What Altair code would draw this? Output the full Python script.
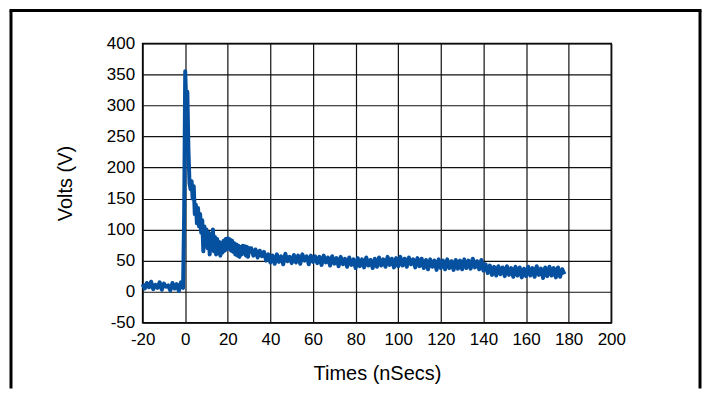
import altair as alt
import pandas as pd

# Baseline before the pulse: t = -20 .. -1 ns, 1 ns apart
pre_start, pre_step = -20.0, 1.0
pre_volts = [12, 5, 14, 7, 16, 4, 11, 6, 15, 3, 13, 8, 10, 2, 14, 5, 12, 1, 15, 6]

# Pulse and fast decay: t = -0.5 .. 30 ns, 0.5 ns apart
pulse_start, pulse_step = -0.5, 0.5
pulse_volts = [
    125, 355, 300, 322, 230, 175, 165, 178, 150, 170,
    125, 140, 110, 135, 105, 125, 95, 115, 65, 105,
    75, 100, 70, 95, 60, 92, 68, 100, 65, 88,
    60, 85, 62, 80, 58, 78, 63, 82, 66, 85,
    68, 86, 70, 84, 66, 82, 64, 78, 60, 76,
    58, 74, 56, 72, 60, 74, 62, 73, 58, 72,
    56, 70,
]

# Slow tail: t = 31 .. 178 ns, 1 ns apart
tail_start, tail_step = 31.0, 1.0
tail_volts = [
    70, 58, 68, 55, 66, 57, 64, 50, 60, 47,
    58, 45, 60, 48, 57, 44, 61, 49, 56, 46,
    59, 47, 58, 45, 60, 50, 57, 44, 58, 48,
    57, 46, 56, 43, 58, 47, 55, 42, 57, 45,
    54, 41, 56, 44, 53, 40, 55, 43, 52, 38,
    54, 41, 52, 39, 55, 42, 51, 38, 53, 40,
    55, 42, 52, 40, 56, 43, 53, 39, 54, 41,
    56, 42, 53, 40, 55, 44, 52, 39, 54, 41,
    53, 38, 51, 36, 52, 40, 50, 35, 52, 38,
    50, 36, 52, 38, 49, 35, 51, 37, 50, 36,
    52, 38, 50, 37, 53, 39, 49, 36, 51, 34,
    44, 30, 42, 27, 40, 26, 41, 28, 39, 25,
    41, 27, 38, 24, 40, 26, 39, 23, 37, 25,
    40, 26, 38, 24, 41, 27, 37, 22, 39, 25,
    40, 26, 38, 23, 39, 24, 36, 28,
]

x_ticks = [-20, 0, 20, 40, 60, 80, 100, 120, 140, 160, 180, 200]
y_ticks = [-50, 0, 50, 100, 150, 200, 250, 300, 350, 400]

times, volts = [], []
for start, step, vals in [(pre_start, pre_step, pre_volts),
                          (pulse_start, pulse_step, pulse_volts),
                          (tail_start, tail_step, tail_volts)]:
    for i, v in enumerate(vals):
        times.append(start + step * i)
        volts.append(v)

df = pd.DataFrame({"t": times, "v": volts, "order": range(len(times))})

FONT = "Liberation Sans"

line = alt.Chart(df).mark_line(color="#0650a0", strokeWidth=4, strokeJoin="round").encode(
    x=alt.X("t:Q", scale=alt.Scale(domain=[-20, 200], nice=False, zero=False),
            axis=alt.Axis(values=x_ticks, title="Times (nSecs)", grid=True,
                          labelExpr="'' + datum.value", labelFlush=False,
                          labelOverlap=False, labelPadding=9, titlePadding=16)),
    y=alt.Y("v:Q", scale=alt.Scale(domain=[-50, 400], nice=False, zero=False),
            axis=alt.Axis(values=y_ticks, title="Volts (V)", grid=True,
                          labelExpr="'' + datum.value", labelFlush=False,
                          labelOverlap=False, labelPadding=8, titlePadding=31)),
    order="order:Q",
)

frame_df = pd.DataFrame({"k": [0]})
left_edge = alt.Chart(frame_df).mark_rule(color="black", strokeWidth=3).encode(
    x=alt.value(-132), y=alt.value(-33), y2=alt.value(346))
right_edge = alt.Chart(frame_df).mark_rule(color="black", strokeWidth=3).encode(
    x=alt.value(559), y=alt.value(-33), y2=alt.value(346))
top_edge = alt.Chart(frame_df).mark_rule(color="black", strokeWidth=3).encode(
    x=alt.value(-133.5), x2=alt.value(560.5), y=alt.value(-33))

chart = alt.layer(line, left_edge, right_edge, top_edge).properties(
    width=470, height=280,
    padding={"left": 0, "top": 0, "right": 0, "bottom": 0},
    background="white",
).configure_view(
    stroke="black", strokeWidth=1.5
).configure_axis(
    domain=False, ticks=False,
    gridColor="#111", gridWidth=1.2, gridOpacity=1,
    labelFont=FONT, labelFontSize=17, labelColor="black",
    titleFont=FONT, titleFontSize=20, titleFontWeight="normal", titleColor="black",
)

chart.save("out.html", embed_options={"renderer": "svg", "actions": False})
